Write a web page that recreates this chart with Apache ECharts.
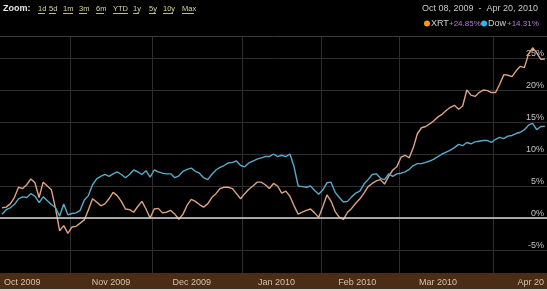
<!DOCTYPE html>
<html>
<head>
<meta charset="utf-8">
<script src="https://cdn.jsdelivr.net/npm/echarts@6/dist/echarts.min.js"></script>
<style>
html,body{margin:0;padding:0;background:#000;}
#c{width:547px;height:291px;}
</style>
</head>
<body>
<div id="c"></div>
<script>
// ---- DATA ----
const tradingDaysByMonth = [
  ['2009-10', [8,9,12,13,14,15,16,19,20,21,22,23,26,27,28,29,30]],
  ['2009-11', [2,3,4,5,6,9,10,11,12,13,16,17,18,19,20,23,24,25,27,30]],
  ['2009-12', [1,2,3,4,7,8,9,10,11,14,15,16,17,18,21,22,23,24,28,29,30,31]],
  ['2010-01', [4,5,6,7,8,11,12,13,14,15,19,20,21,22,25,26,27,28,29]],
  ['2010-02', [1,2,3,4,5,8,9,10,11,12,16,17,18,19,22,23,24,25,26]],
  ['2010-03', [1,2,3,4,5,8,9,10,11,12,15,16,17,18,19,22,23,24,25,26,29,30,31]],
  ['2010-04', [1,5,6,7,8,9,12,13,14,15,16,19,20]]
];
const dates = [];
tradingDaysByMonth.forEach(([m, days]) => days.forEach(d => dates.push(m + '-' + String(d).padStart(2, '0'))));

const xrt = [
  1.6, 1.7, 2.2, 3.2, 4.8, 4.6, 5.2, 6.1, 5.5, 3.2,
  5.6, 5.0, 4.4, 1.5, -2.0, -1.2, -2.4, -1.4, -1.3, -0.8,
  -0.3, 1.3, 3.0, 2.5, 1.9, 2.2, 3.0, 4.0, 3.5, 2.6,
  1.4, 1.3, 0.9, 1.8, 2.6, 1.4, 0.0, 1.4, 1.5, 0.8,
  0.9, 1.2, 0.6, -0.2, 0.6, 2.0, 2.9, 2.6, 2.1, 1.7,
  2.2, 3.2, 3.8, 4.6, 4.8, 4.8, 4.6, 3.8, 3.0, 3.8,
  4.5, 5.0, 5.6, 5.6, 5.2, 4.6, 5.4, 5.0, 3.9, 4.2,
  3.4, 1.9, 0.6, 0.9, 1.2, 1.4, 0.8, 0.1, 1.8, 3.6,
  2.6, 1.0, 0.1, -0.2, 0.9, 1.5, 2.3, 3.0, 3.9, 4.9,
  5.4, 5.8, 6.0, 5.3, 6.5, 7.5, 8.0, 9.5, 9.8, 9.4,
  11.0, 13.2, 14.1, 14.3, 14.7, 15.2, 15.8, 16.2, 16.8, 17.3,
  17.6, 17.0, 17.5, 20.0, 19.2, 19.0, 19.6, 20.0, 19.9, 19.6,
  19.6, 20.9, 22.4, 22.3, 22.1, 23.0, 23.7, 23.5, 25.6, 26.6,
  25.8, 24.8, 24.85
];
const dow = [
  0.6, 1.3, 1.6, 2.1, 3.0, 3.3, 3.2, 3.8, 3.4, 2.4,
  3.3, 2.7, 2.1, 1.6, 0.3, 2.2, 0.5, 0.7, 0.8, 1.2,
  2.8, 3.5, 5.2, 6.1, 6.5, 6.8, 6.5, 6.9, 7.2, 6.8,
  6.3, 6.8, 7.5, 7.2, 6.8, 7.4, 6.4, 7.5, 7.2, 7.0,
  6.9, 6.9, 6.3, 6.6, 7.3, 7.6, 7.8, 7.3, 7.0, 6.3,
  6.0, 6.8, 7.5, 7.9, 8.2, 8.6, 8.7, 8.9, 8.2, 8.0,
  8.6, 8.9, 9.2, 9.4, 9.6, 9.6, 10.0, 9.6, 9.8, 9.6,
  10.0, 8.0, 5.0, 4.9, 4.8, 5.0, 4.3, 3.7, 4.4, 5.5,
  5.6, 4.0, 3.2, 2.5, 2.6, 3.3, 3.9, 4.2, 5.3, 6.0,
  6.8, 6.9, 6.2, 6.0, 6.9, 6.5, 6.9, 7.0, 7.2, 7.6,
  8.2, 8.5, 8.5, 8.7, 8.9, 9.2, 9.6, 10.0, 10.3, 10.6,
  11.0, 11.5, 11.3, 11.8, 11.6, 11.9, 12.0, 12.1, 12.1, 11.8,
  12.3, 12.6, 12.4, 12.8, 12.9, 13.2, 13.4, 13.8, 14.5, 14.8,
  13.8, 14.3, 14.31
];
const seriesNames = ['XRT', 'Dow'];
const seriesChanges = ['+24.85%', '+14.31%'];
const monthLabelDates = ['2009-10-15', '2009-11-16', '2009-12-15', '2010-01-15', '2010-02-16', '2010-03-16', '2010-04-19'];
const monthLabelTexts = ['Oct 2009', 'Nov 2009', 'Dec 2009', 'Jan 2010', 'Feb 2010', 'Mar 2010', 'Apr 20'];
const yTicks = [-5, 0, 5, 10, 15, 20, 25];
const zoomLinks = ['1d','5d','1m','3m','6m','YTD','1y','5y','10y','Max'];
const dateRangeText = 'Oct 08, 2009  -  Apr 20, 2010';

// ---- LAYOUT ----
const linkX = [38, 49, 63, 79, 96, 113, 133, 149, 163, 182];
const linkW = [7, 7, 10, 8, 8, 15, 6, 7, 10, 12];
const FONT = '"Liberation Sans", Arial, sans-serif';

function isMonthStart(i) {
  if (i === 0) return false;
  return dates[i].slice(0, 7) !== dates[i - 1].slice(0, 7);
}

const chart = echarts.init(document.getElementById('c'));

const graphics = [
  { type: 'rect', shape: { x: 0, y: 0, width: 547, height: 36 }, style: { fill: '#000' }, z: 100 },
  { type: 'line', shape: { x1: 0, y1: 36.5, x2: 547, y2: 36.5 }, style: { stroke: '#3a3a3a', lineWidth: 1 }, z: 101 },
  { type: 'rect', shape: { x: 0, y: 273, width: 547, height: 16 }, style: { fill: '#4a2d14' }, z: 100 },
  { type: 'rect', shape: { x: 0, y: 289, width: 547, height: 2 }, style: { fill: '#d6d6d6' }, z: 100 },
  { type: 'text', x: 3, y: 9, style: { text: 'Zoom:', fill: '#e8e8e8', font: 'bold 9px ' + FONT, verticalAlign: 'middle' }, z: 102 },
  { type: 'text', x: 538, y: 9, style: { text: dateRangeText, fill: '#c8c8c8', font: '9px ' + FONT, align: 'right', verticalAlign: 'middle' }, z: 102 },
  // legend
  { type: 'circle', shape: { cx: 427, cy: 23.5, r: 3 }, style: { fill: '#f39c12' }, z: 102 },
  { type: 'text', x: 431, y: 23.5, style: { text: seriesNames[0], fill: '#cfcfcf', font: '9px ' + FONT, verticalAlign: 'middle' }, z: 102 },
  { type: 'text', x: 449, y: 23.5, style: { text: seriesChanges[0], fill: '#b57cd0', font: '8px ' + FONT, verticalAlign: 'middle' }, z: 102 },
  { type: 'circle', shape: { cx: 484, cy: 23.5, r: 3 }, style: { fill: '#2ab8e8' }, z: 102 },
  { type: 'text', x: 488, y: 23.5, style: { text: seriesNames[1], fill: '#cfcfcf', font: '9px ' + FONT, verticalAlign: 'middle' }, z: 102 },
  { type: 'text', x: 507, y: 23.5, style: { text: seriesChanges[1], fill: '#b57cd0', font: '8px ' + FONT, verticalAlign: 'middle' }, z: 102 }
];
zoomLinks.forEach((t, i) => {
  graphics.push({ type: 'text', x: linkX[i], y: 8.5, style: { text: t, fill: '#d9d4a6', font: '7.5px ' + FONT, verticalAlign: 'middle' }, z: 102 });
  graphics.push({ type: 'line', shape: { x1: linkX[i], y1: 13.5, x2: linkX[i] + linkW[i], y2: 13.5 }, style: { stroke: '#bdb88e', lineWidth: 1 }, z: 102 });
});

chart.setOption({
  backgroundColor: '#000',
  animation: false,
  grid: [
    { left: 0, right: 0, top: 26, height: 256 },
    { left: 0, right: 0, top: 272, height: 1 }
  ],
  xAxis: [
    {
      type: 'category', gridIndex: 0, data: dates, boundaryGap: true,
      axisLine: { show: false }, axisTick: { show: false }, axisLabel: { show: false },
      splitLine: { show: true, interval: (i) => isMonthStart(i), lineStyle: { color: '#2e2e2e', width: 1 } }
    },
    {
      type: 'category', gridIndex: 1, data: dates, boundaryGap: true, z: 110,
      axisLine: { show: false },
      axisTick: { show: false },
      axisLabel: {
        show: true, margin: 5, color: '#d2c3ad', fontSize: 9, fontFamily: FONT,
        interval: (i, v) => monthLabelDates.indexOf(v) >= 0,
        formatter: (v) => { const k = monthLabelDates.indexOf(v); return k >= 0 ? monthLabelTexts[k] : ''; }
      },
      splitLine: { show: false }
    }
  ],
  yAxis: [
    {
      type: 'value', gridIndex: 0, min: -10, max: 30, interval: 5, position: 'right',
      axisLine: { show: false }, axisTick: { show: false },
      axisLabel: {
        inside: true, margin: 3, color: '#c4c4c4', fontSize: 9, fontFamily: FONT,
        align: 'right', verticalAlign: 'bottom',
        formatter: (v) => (yTicks.indexOf(v) >= 0 ? v + '%' : '')
      },
      splitLine: { lineStyle: { color: '#2e2e2e', width: 1 } }
    },
    { type: 'value', gridIndex: 1, show: false }
  ],
  series: [
    {
      name: seriesNames[0], type: 'line', xAxisIndex: 0, yAxisIndex: 0, data: xrt,
      symbol: 'none', lineStyle: { color: '#dca485', width: 1.4 },
      markLine: {
        silent: true, symbol: 'none', label: { show: false },
        lineStyle: { color: '#d8d8d8', width: 1.5, type: 'solid' },
        data: [{ yAxis: 0 }]
      }
    },
    {
      name: seriesNames[1], type: 'line', xAxisIndex: 0, yAxisIndex: 0, data: dow,
      symbol: 'none', lineStyle: { color: '#5aa9c9', width: 1.4 }
    }
  ],
  graphic: { elements: graphics }
});
</script>
</body>
</html>
